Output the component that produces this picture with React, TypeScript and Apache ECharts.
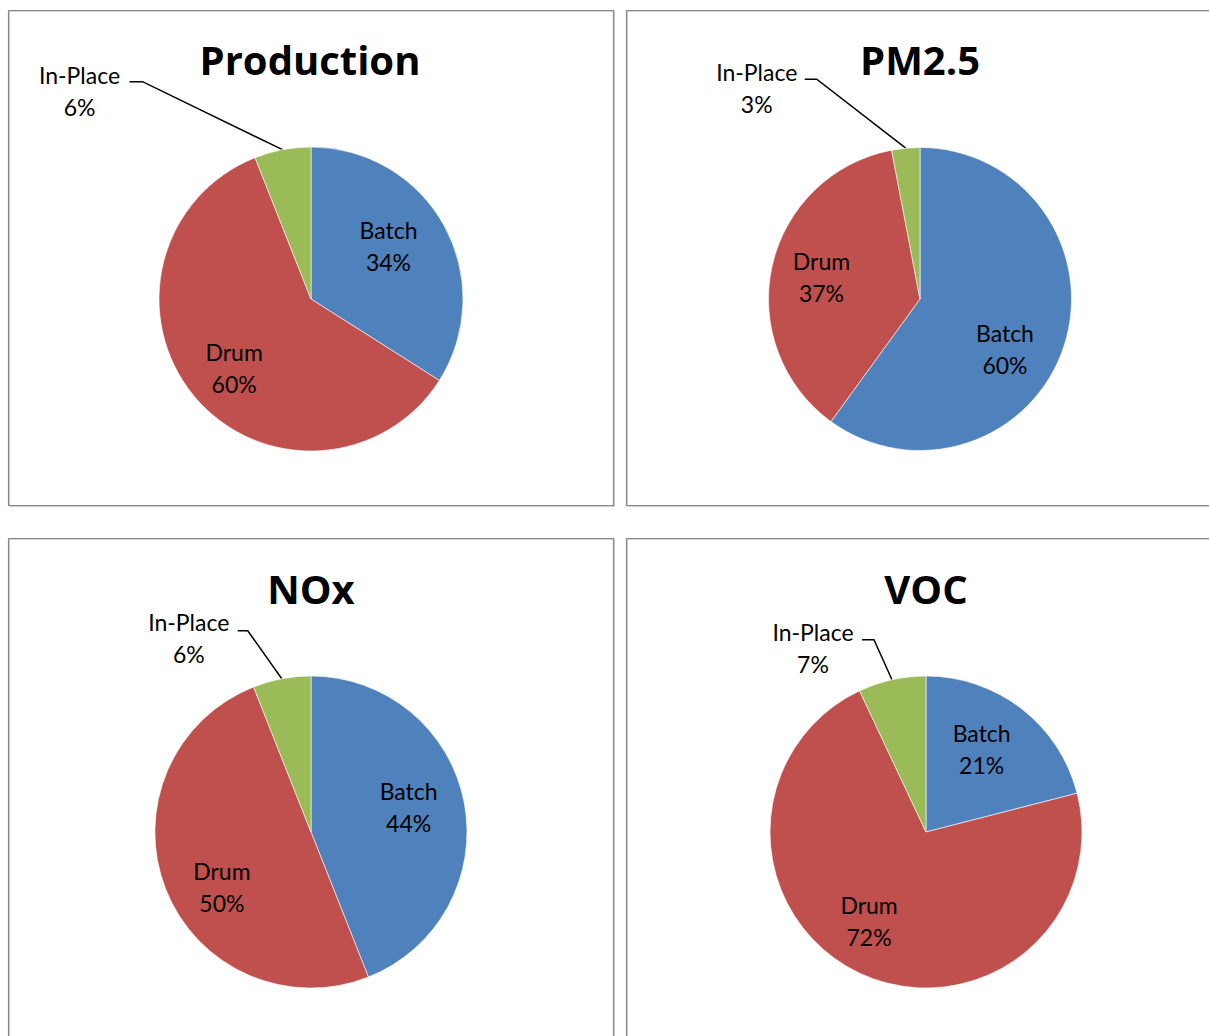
import React, { useEffect, useRef } from "react";
import * as echarts from "echarts";

// ---- Data ----
const categories = ["Batch", "Drum", "In-Place"];
const chartTitles = ["Production", "PM2.5", "NOx", "VOC"];
const productionValues = [34, 60, 6];
const pm25Values = [60, 37, 3];
const noxValues = [44, 50, 6];
const vocValues = [21, 72, 7];

const sliceColors = ["#4F81BD", "#C0504D", "#9BBB59"];

// ---- Layout (page pixels) ----
type Panel = {
  title: string;
  values: number[];
  box: [number, number, number, number];
  center: [number, number];
  radius: number;
  titleCenter: [number, number];
  labelRadius: number;
  insideNudge: [number, number][];
  outer: { dx: number; dy: number; kx: number; ky: number; tail: number };
};

const panels: Panel[] = [
  {
    title: chartTitles[0],
    values: productionValues,
    box: [8.5, 10.5, 605, 495],
    center: [311, 299],
    radius: 152,
    titleCenter: [310, 61],
    labelRadius: 196,
    insideNudge: [[-11, -4], [1, 5], [0, 0]],
    outer: { dx: -203, dy: -59, kx: -140, ky: -68, tail: 13 },
  },
  {
    title: chartTitles[1],
    values: pm25Values,
    box: [626.5, 10.5, 600, 495],
    center: [920, 299],
    radius: 151.5,
    titleCenter: [920, 61],
    labelRadius: 200,
    insideNudge: [[-13, 18], [2, 0], [0, 0]],
    outer: { dx: -149, dy: -60, kx: -89, ky: -69, tail: 12 },
  },
  {
    title: chartTitles[2],
    values: noxValues,
    box: [8.5, 538.5, 605, 520],
    center: [311, 832],
    radius: 156,
    titleCenter: [311, 590],
    labelRadius: 205,
    insideNudge: [[-6, -5], [9, 16], [0, 0]],
    outer: { dx: -93, dy: -41, kx: -34, ky: -48, tail: 10 },
  },
  {
    title: chartTitles[3],
    values: vocValues,
    box: [626.5, 538.5, 600, 520],
    center: [926, 832],
    radius: 156,
    titleCenter: [926, 590],
    labelRadius: 205,
    insideNudge: [[-9, 0], [-12, -6], [0, 0]],
    outer: { dx: -79, dy: -32, kx: -18, ky: -40, tail: 12 },
  },
];

const LABEL_FONT = "Lato, 'Open Sans', sans-serif";
const TITLE_FONT = "'Open Sans', Lato, sans-serif";

export default function App() {
  const ref = useRef<HTMLDivElement>(null);

  useEffect(() => {
    if (!ref.current) return;
    const chart = echarts.init(ref.current, undefined, { renderer: "svg" });

    const series: any[] = [];
    panels.forEach((p) => {
      // visible pie (outside label for In-Place)
      series.push({
        type: "pie",
        center: p.center,
        radius: p.radius,
        startAngle: 90,
        clockwise: true,
        silent: true,
        avoidLabelOverlap: false,
        itemStyle: { borderColor: "#ffffff", borderWidth: 0.6 },
        label: {
          show: true,
          position: "outside",
          formatter: (params: any) => `${params.name}\n${params.value}%`,
          fontFamily: LABEL_FONT,
          fontSize: 23,
          lineHeight: 32,
          color: "#000000",
          align: "center",
        },
        labelLine: {
          show: true,
          lineStyle: { color: "#000000", width: 1.5 },
          smooth: false,
        },
        labelLayout: (params: any) => {
          const pts = params.labelLinePoints;
          if (!pts) return {};
          const ex = pts[0][0];
          const ey = pts[0][1];
          const kx = ex + p.outer.kx;
          const ky = ey + p.outer.ky;
          return {
            x: ex + p.outer.dx,
            y: ey + p.outer.dy,
            align: "center",
            verticalAlign: "middle",
            labelLinePoints: [
              [ex, ey],
              [kx, ky],
              [kx - p.outer.tail, ky],
            ],
          };
        },
        data: categories.map((name, i) => ({
          name,
          value: p.values[i],
          itemStyle: { color: sliceColors[i] },
          label: { show: i === 2 },
          labelLine: { show: i === 2 },
        })),
      });
      // transparent pie carrying the inside labels
      series.push({
        type: "pie",
        center: p.center,
        radius: p.labelRadius,
        startAngle: 90,
        clockwise: true,
        silent: true,
        itemStyle: { color: "rgba(0,0,0,0)", borderWidth: 0 },
        label: {
          show: true,
          position: "inside",
          formatter: (params: any) => `${params.name}\n${params.value}%`,
          fontFamily: LABEL_FONT,
          fontSize: 23,
          lineHeight: 32,
          color: "#000000",
          textBorderWidth: 0,
        },
        labelLine: { show: false },
        labelLayout: (params: any) => {
          const n = p.insideNudge[params.dataIndex] || [0, 0];
          return { dx: n[0], dy: n[1] };
        },
        data: categories.map((name, i) => ({
          name,
          value: p.values[i],
          label: { show: i !== 2 },
        })),
      });
    });

    const graphics: any[] = [];
    panels.forEach((p) => {
      const [x, y, w, h] = p.box;
      graphics.push({
        type: "rect",
        silent: true,
        shape: { x: x + 1, y: y + 1, width: w, height: h },
        style: { fill: "none", stroke: "#cfcfcf", lineWidth: 1 },
      });
      graphics.push({
        type: "rect",
        silent: true,
        shape: { x, y, width: w, height: h },
        style: { fill: "none", stroke: "#8a8a8a", lineWidth: 1.2 },
      });
    });

    chart.setOption({
      animation: false,
      backgroundColor: "#ffffff",
      title: panels.map((p) => ({
        text: p.title,
        left: p.titleCenter[0],
        top: p.titleCenter[1] - 29,
        textAlign: "center",
        padding: 0,
        textStyle: {
          fontFamily: TITLE_FONT,
          fontWeight: "bold",
          fontSize: 40,
          lineHeight: 54,
          color: "#000000",
        },
      })),
      graphic: graphics,
      series,
    });

    return () => chart.dispose();
  }, []);

  return (
    <div
      ref={ref}
      style={{ position: "absolute", left: 0, top: 0, width: 1209, height: 1036 }}
    />
  );
}
